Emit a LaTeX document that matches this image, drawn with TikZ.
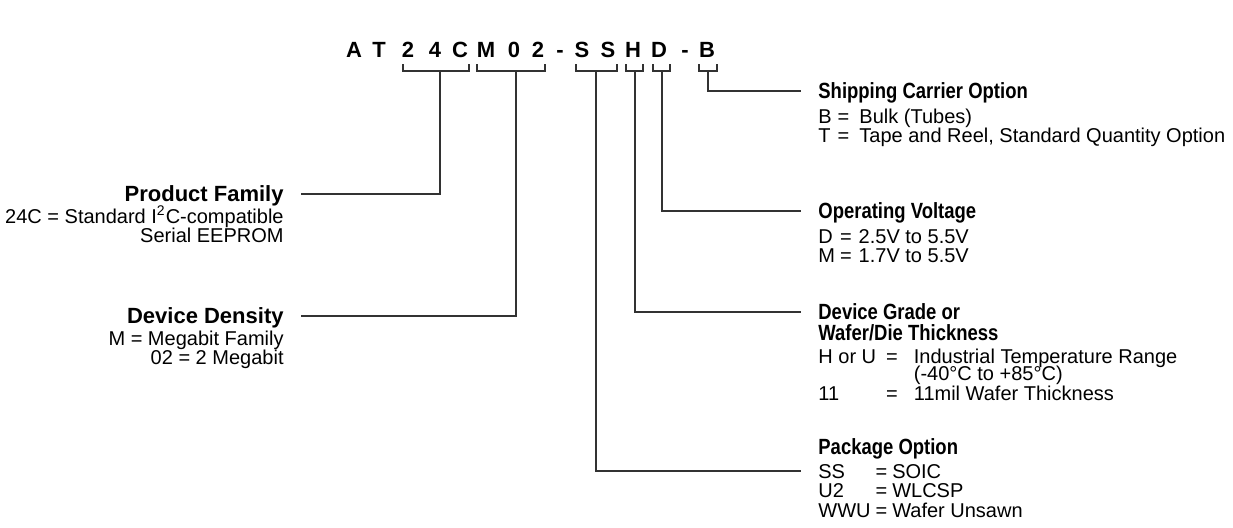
\documentclass[tikz,border=0pt]{standalone}
\usepackage{fontspec}
\setmainfont{Liberation Sans}
\newfontfamily\narrowfont{Liberation Sans}[FakeStretch=0.84]
\usepackage{xcolor}
\usepackage{tikz}
\usetikzlibrary{positioning, calc}
\definecolor{wirecolor}{RGB}{50, 50, 50}

\begin{document}
\begin{tikzpicture}[x=0.5pt, y=-0.5pt,
        code/.style={anchor=base, inner sep=0pt, font=\fontsize{11}{12}\selectfont\bfseries},
        head/.style={inner sep=0pt, text height=8pt, text depth=1pt, font=\fontsize{11}{12}\selectfont\bfseries},
        rhead/.style={head, anchor=base west, font=\fontsize{11}{12}\selectfont\narrowfont\bfseries},
        body/.style={inner sep=0pt, font=\fontsize{10}{9}\selectfont},
        wire/.style={draw=wirecolor, line width=0.6pt}]
        \useasboundingbox (0,0) rectangle (1233,527);

        % Part number
        \foreach \ch/\xx [count=\i] in {A/354, T/379, 2/408, 4/435, C/460, M/486, 0/514, 2/538, -/560, S/582, S/608, H/633, D/659, -/685, B/707}
            \node[code] (c\i) at (\xx,57) {\ch};

        % Brackets under the fields
        \foreach \a/\b/\s/\nm in {403/469/440/fam, 477/545/516/dens, 576/617/596/pkg, 626/643/635/grade, 653/670/662/volt, 699/717/708/ship} {
            \draw[wire] (\a,64) -- (\a,71) -- (\b,71) -- (\b,64);
            \coordinate (\nm) at (\s,71);
        }

        % Product Family
        \node[head, anchor=base east] (famhead) at (284,201) {Product Family};
        \node[body, anchor=base east] (famtext) at (284,223) {\begin{tabular}[t]{@{}r@{}}24C = Standard I\textsuperscript{2}C-compatible\\ Serial EEPROM\end{tabular}};

        % Device Density
        \node[head, anchor=base east] (denshead) at (284,323) {Device Density};
        \node[body, anchor=base east] (denstext) at (284,345) {\begin{tabular}[t]{@{}r@{}}M = Megabit Family\\ 02 = 2 Megabit\end{tabular}};

        % Shipping Carrier Option
        \node[rhead] (shiphead) at (818,98) {Shipping Carrier Option};
        \node[body, anchor=base west] (shiptext) at (818,123) {\begin{tabular}[t]{@{}l@{\hspace{3pt}}l@{\hspace{5pt}}l@{}}B & = & Bulk (Tubes)\\ T & = & Tape and Reel, Standard Quantity Option\end{tabular}};

        % Operating Voltage
        \node[rhead] (volthead) at (818,218) {Operating Voltage};
        \node[body, anchor=base west] (volttext) at (818,243) {\begin{tabular}[t]{@{}l@{\hspace{2.5pt}}l@{\hspace{3.5pt}}l@{}}D & = & 2.5V to 5.5V\\ M & = & 1.7V to 5.5V\end{tabular}};

        % Device Grade
        \node[rhead] (gradehead) at (818,319) {Device Grade or};
        \node[rhead] (gradehead2) at (818,340) {Wafer/Die Thickness};
        \node[body, anchor=base west] (gradetext) at (818,363) {\begin{tabular}[t]{@{}l@{\hspace{5pt}}l@{\hspace{8pt}}l@{}}H or U & = & Industrial Temperature Range\\[-1pt]
            & & (-40°C to +85°C)\\
            11 & = & 11mil Wafer Thickness\end{tabular}};

        % Package Option
        \node[rhead] (pkghead) at (818,454) {Package Option};
        \node[body, anchor=base west] (pkgtext) at (818,478) {\begin{tabular}[t]{@{}l@{\hspace{2.5pt}}l@{\hspace{2.5pt}}l@{}}SS & = & SOIC\\ U2 & = & WLCSP\\ WWU & = & Wafer Unsawn\end{tabular}};

        % Connecting lines
        \draw[wire] (fam) |- ([xshift=8.5pt]famhead.east);
        \draw[wire] (dens) |- ([xshift=8.5pt]denshead.east);
        \draw[wire] (ship) |- ([xshift=-8.5pt]shiphead.west);
        \draw[wire] (volt) |- ([xshift=-8.5pt]volthead.west);
        \draw[wire] (grade) |- ([xshift=-8.5pt]gradehead.west);
        \draw[wire] (pkg) |- ([xshift=-8.5pt, yshift=3.5pt]pkgtext.base west);
    \end{tikzpicture}
\end{document}
